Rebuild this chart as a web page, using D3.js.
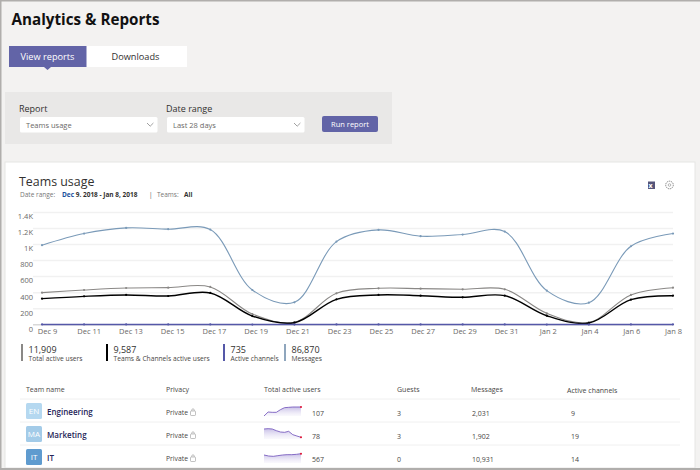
<!DOCTYPE html>
<html>
<head>
<meta charset="utf-8">
<script src="https://cdn.jsdelivr.net/npm/d3@7"></script>
<style>
  html, body { margin: 0; padding: 0; background: #f3f2f1; overflow: hidden; }
  svg { display: block; font-family: "Open Sans", "Noto Sans", sans-serif; }
  .axis path { display: none; }
  .axis line { display: none; }
  .axis text { font-family: "Open Sans", sans-serif; font-size: 7.5px; fill: #6b6967; }
</style>
</head>
<body>
<svg id="chart" width="700" height="470"></svg>
<script>
// chart data
const dates = ["Dec 9", "Dec 11", "Dec 13", "Dec 15", "Dec 17", "Dec 19", "Dec 21", "Dec 23",
    "Dec 25", "Dec 27", "Dec 29", "Dec 31", "Jan 2", "Jan 4", "Jan 6", "Jan 8"];
const messages = [992, 1137, 1208, 1192, 1187, 433, 279, 1037, 1183, 1104, 1125, 1162, 425, 275, 979, 1137];
const totalUsers = [400, 433, 458, 462, 471, 133, 29, 392, 454, 450, 442, 442, 142, 29, 371, 462];
const channelUsers = [325, 354, 371, 358, 396, 108, 25, 317, 371, 362, 342, 362, 112, 21, 312, 362];
const activeChannels = [3, 3, 3, 3, 3, 2, 1, 3, 3, 3, 3, 3, 2, 1, 3, 3];
const yTicks = [0, 200, 400, 600, 800, 1000, 1200, 1400];
const yTickLabels = ["0", "200", "400", "600", "800", "1K", "1.2K", "1.4K"];

const legendValues = ["11,909", "9,587", "735", "86,870"];
const legendLabels = ["Total active users", "Teams & Channels active users", "Active channels", "Messages"];
const legendColors = ["#8a8886", "#000000", "#5558a8", "#8fa6bd"];

const tableHeaders = ["Team name", "Privacy", "Total active users", "Guests", "Messages", "Active channels"];
const teamNames = ["Engineering", "Marketing", "IT"];
const teamInitials = ["EN", "MA", "IT"];
const teamColors = ["#b5d8f0", "#a3cbe8", "#5f9bcf"];
const teamActive = ["107", "78", "567"];
const teamGuests = ["3", "3", "0"];
const teamMessages = ["2,031", "1,902", "10,931"];
const teamChannels = ["9", "19", "14"];
const sparkEngineering = [0, 12, 11, 11, 19, 25, 26, 27, 27, 27];
const sparkMarketing = [30, 31, 30, 25, 21, 20, 23, 13, 9, 5];
const sparkIT = [24, 21, 20, 22, 24, 25, 25, 26, 28];

const svg = d3.select("#chart");

// ---------------------------
// PAGE FRAME AND HEADER
// ---------------------------

svg.append("rect").attr("width", 700).attr("height", 470).attr("fill", "#f3f2f1");
svg.append("rect").attr("width", 700).attr("height", 1.5).attr("fill", "#b0aeac");
svg.append("rect").attr("width", 1.5).attr("height", 470).attr("fill", "#b0aeac");

svg.append("text").text("Analytics & Reports")
    .attr("x", 11.5).attr("y", 25)
    .attr("font-size", 16).attr("font-weight", 700).attr("fill", "#111")
    .attr("textLength", 148).attr("lengthAdjust", "spacingAndGlyphs");

// tabs
svg.append("rect").attr("x", 86).attr("y", 46).attr("width", 101).attr("height", 21).attr("fill", "#fff");
svg.append("rect").attr("x", 9).attr("y", 46).attr("width", 77.5).attr("height", 21).attr("fill", "#6264a7");
svg.append("path").attr("d", "M44,67 L47.5,70 L51,67 Z").attr("fill", "#6264a7");
svg.append("text").text("View reports").attr("x", 47.5).attr("y", 60).attr("text-anchor", "middle")
    .attr("font-size", 9.2).attr("fill", "#fff");
svg.append("text").text("Downloads").attr("x", 135.5).attr("y", 60).attr("text-anchor", "middle")
    .attr("font-size", 9.2).attr("fill", "#323130");

// filter panel
svg.append("rect").attr("x", 5).attr("y", 92).attr("width", 387).attr("height", 52).attr("fill", "#e9e8e7");

const filters = [
    {label: "Report", value: "Teams usage", x: 20},
    {label: "Date range", value: "Last 28 days", x: 167}
];

filters.forEach(f => {
    svg.append("text").text(f.label).attr("x", f.x - 1).attr("y", 111.5)
        .attr("font-size", 9).attr("fill", "#323130");
    svg.append("rect").attr("x", f.x).attr("y", 117).attr("width", 137.5).attr("height", 15.5)
        .attr("rx", 1.5).attr("fill", "#fff");
    svg.append("text").text(f.value).attr("x", f.x + 6).attr("y", 128)
        .attr("font-size", 7.5).attr("fill", "#6b6967");
    svg.append("path")
        .attr("d", `M${f.x + 127},123 l3.2,3.2 l3.2,-3.2`)
        .attr("fill", "none").attr("stroke", "#777").attr("stroke-width", 0.7);
});

svg.append("rect").attr("x", 322).attr("y", 116).attr("width", 56).attr("height", 16)
    .attr("rx", 2).attr("fill", "#6264a7");
svg.append("text").text("Run report").attr("x", 350).attr("y", 127).attr("text-anchor", "middle")
    .attr("font-size", 7.5).attr("fill", "#fff");

// ---------------------------
// CARD
// ---------------------------

svg.append("rect").attr("x", 5).attr("y", 162).attr("width", 690).attr("height", 306)
    .attr("fill", "#fff").attr("stroke", "#e6e5e4").attr("stroke-width", 1);
svg.append("rect").attr("y", 468).attr("width", 700).attr("height", 2).attr("fill", "#b0aeac");

svg.append("text").text("Teams usage").attr("x", 19).attr("y", 185.5)
    .attr("font-size", 12.4).attr("fill", "#323130");

const rangeLine = svg.append("text").attr("x", 20).attr("y", 197).attr("font-size", 6.5);
rangeLine.append("tspan").text("Date range:").attr("fill", "#777");
rangeLine.append("tspan").text("Dec").attr("x", 62)
    .attr("font-weight", 700).attr("fill", "#1a4f9c");
rangeLine.append("tspan").text(" 9. 2018 - Jan 8, 2018")
    .attr("font-weight", 700).attr("fill", "#323130");
rangeLine.append("tspan").text("|").attr("x", 149).attr("fill", "#555");
rangeLine.append("tspan").text("Teams:").attr("x", 157).attr("fill", "#777");
rangeLine.append("tspan").text("All").attr("x", 184).attr("font-weight", 700).attr("fill", "#323130");

// export and settings icons
svg.append("rect").attr("x", 648).attr("y", 181.5).attr("width", 7).attr("height", 7.5).attr("fill", "#55557a");
svg.append("text").text("x").attr("x", 648.5).attr("y", 187.5).attr("font-size", 7)
    .attr("font-weight", 700).attr("fill", "#fff");
svg.append("circle").attr("cx", 669.5).attr("cy", 185).attr("r", 3.8)
    .attr("fill", "none").attr("stroke", "#777").attr("stroke-width", 0.9)
    .attr("stroke-dasharray", "1.4 0.7");
svg.append("circle").attr("cx", 669.5).attr("cy", 185).attr("r", 1.3)
    .attr("fill", "none").attr("stroke", "#777").attr("stroke-width", 0.5);

// ---------------------------
// LINE CHART
// ---------------------------

const xScale = d3.scalePoint().domain(dates).range([42, 673]);
const xLabelScale = d3.scalePoint().domain(dates).range([47, 673]);
const yScale = d3.scaleLinear().domain([0, 1400]).range([324.7, 212.5]);

svg.append("g").selectAll("line")
    .data(yTicks)
    .join("line")
    .attr("x1", 33)
    .attr("x2", 673)
    .attr("y1", d => yScale(d))
    .attr("y2", d => yScale(d))
    .attr("stroke", d => d === 0 ? "#d8d8d8" : "#f1f1f1")
    .attr("stroke-width", 1.5);

svg.append("g")
    .attr("class", "axis")
    .attr("transform", "translate(33,0)")
    .call(d3.axisLeft(yScale).tickValues(yTicks).tickSize(0).tickPadding(0)
        .tickFormat((d, i) => yTickLabels[i]))
    .selectAll("text")
    .attr("dy", "0.85em");

svg.append("g")
    .attr("class", "axis")
    .attr("transform", "translate(0,325.5)")
    .call(d3.axisBottom(xLabelScale).tickSize(0).tickPadding(3));

const lineGen = d3.line()
    .x((d, i) => xScale(dates[i]))
    .y(d => yScale(d))
    .curve(d3.curveCatmullRom);

const series = [
    {values: messages, color: "#7a9ab8", width: 1.1},
    {values: totalUsers, color: "#8a8886", width: 1.1},
    {values: channelUsers, color: "#000000", width: 1.4},
    {values: activeChannels, color: "#5558a8", width: 1.5}
];

series.forEach(s => {
    svg.append("path")
        .attr("d", lineGen(s.values))
        .attr("fill", "none")
        .attr("stroke", s.color)
        .attr("stroke-width", s.width);

    svg.append("g").selectAll("circle")
        .data(s.values)
        .join("circle")
        .attr("cx", (d, i) => xScale(dates[i]))
        .attr("cy", d => yScale(d))
        .attr("r", 1.1)
        .attr("fill", s.color);
});

// ---------------------------
// LEGEND
// ---------------------------

const legendX = [21, 106, 223, 284];

legendValues.forEach((v, i) => {
    svg.append("rect").attr("x", legendX[i]).attr("y", 344).attr("width", 2).attr("height", 17)
        .attr("fill", legendColors[i]);
    svg.append("text").text(v).attr("x", legendX[i] + 7.5).attr("y", 352.5)
        .attr("font-size", 9).attr("fill", "#323130");
    svg.append("text").text(legendLabels[i]).attr("x", legendX[i] + 7.5).attr("y", 361)
        .attr("font-size", 6.7).attr("fill", "#484644");
});

// ---------------------------
// TABLE
// ---------------------------

const headerX = [26, 166, 264, 397, 471, 567];
const headerY = [392, 392, 392, 392, 392, 393];

tableHeaders.forEach((h, i) => {
    svg.append("text").text(h).attr("x", headerX[i]).attr("y", headerY[i])
        .attr("font-size", 7).attr("fill", "#484644");
});

const sparkData = [sparkEngineering, sparkMarketing, sparkIT];
const rowTops = [400, 423, 446];
const sparkBases = [416, 439, 463];
const valueX = [312, 397, 472, 571];

teamNames.forEach((name, i) => {
    const top = rowTops[i];

    svg.append("line").attr("x1", 20).attr("x2", 680).attr("y1", top - 1).attr("y2", top - 1)
        .attr("stroke", "#f0f0f0").attr("stroke-width", 1);

    svg.append("rect").attr("x", 26).attr("y", top + 3).attr("width", 16).attr("height", 16)
        .attr("rx", 1.5).attr("fill", teamColors[i]);
    svg.append("text").text(teamInitials[i]).attr("x", 34).attr("y", top + 14).attr("text-anchor", "middle")
        .attr("font-size", 8).attr("fill", "#fff");
    svg.append("text").text(name).attr("x", 47).attr("y", top + 14.5)
        .attr("font-size", 8).attr("font-weight", 600).attr("fill", "#252457");

    svg.append("text").text("Private").attr("x", 166).attr("y", top + 15)
        .attr("font-size", 6.8).attr("fill", "#484644");
    svg.append("rect").attr("x", 190.5).attr("y", top + 11).attr("width", 5).attr("height", 4.5)
        .attr("rx", 0.7).attr("fill", "none").attr("stroke", "#999").attr("stroke-width", 0.6);
    svg.append("path").attr("d", `M191.8,${top + 11} v-1 a1.2,1.2 0 0 1 2.4,0 v1`)
        .attr("fill", "none").attr("stroke", "#999").attr("stroke-width", 0.6);

    // sparkline
    const values = sparkData[i];
    const sx = d3.scalePoint().domain(d3.range(values.length)).range([264, 301]);
    const sy = d3.scaleLinear().domain([0, 3]).range([sparkBases[i], sparkBases[i] - 1]);
    const gradId = `spark${i}`;

    const grad = svg.append("defs").append("linearGradient")
        .attr("id", gradId).attr("x1", 0).attr("x2", 0).attr("y1", 0).attr("y2", 1);
    grad.append("stop").attr("offset", "0%").attr("stop-color", "#b9aee0").attr("stop-opacity", 0.8);
    grad.append("stop").attr("offset", "100%").attr("stop-color", "#e9e5f6").attr("stop-opacity", 0.25);

    svg.append("path")
        .attr("d", d3.area().x((d, j) => sx(j)).y0(sparkBases[i]).y1(d => sy(d))(values))
        .attr("fill", `url(#${gradId})`);
    svg.append("path")
        .attr("d", d3.line().x((d, j) => sx(j)).y(d => sy(d))(values))
        .attr("fill", "none").attr("stroke", "#7a5fc0").attr("stroke-width", 0.9);
    svg.append("circle")
        .attr("cx", sx(values.length - 1))
        .attr("cy", sy(values[values.length - 1]))
        .attr("r", 1).attr("fill", "#e01030");

    const cells = [teamActive[i], teamGuests[i], teamMessages[i], teamChannels[i]];
    cells.forEach((c, j) => {
        svg.append("text").text(c).attr("x", valueX[j]).attr("y", top + 15.5)
            .attr("font-size", 7).attr("fill", "#484644");
    });
});
</script>
</body>
</html>
